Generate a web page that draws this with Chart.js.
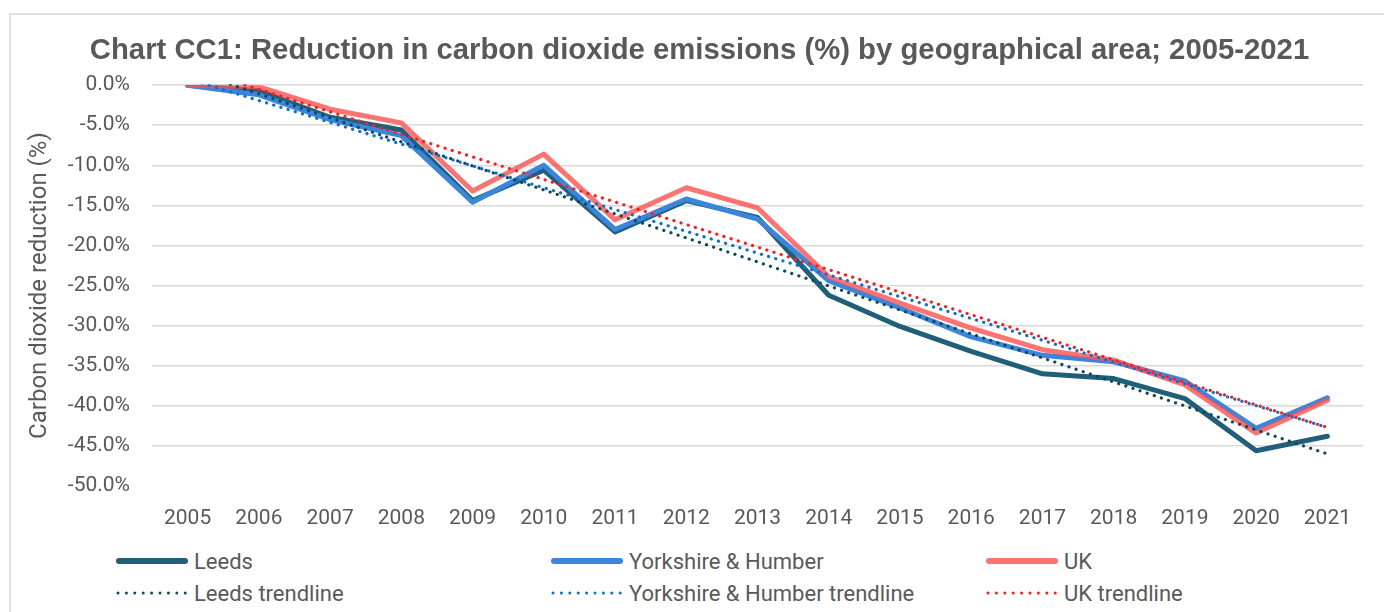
<!DOCTYPE html>
<html>
<head>
<meta charset="utf-8">
<script src="https://cdn.jsdelivr.net/npm/chart.js@4/dist/chart.umd.min.js"></script>
<style>
  body { margin: 0; background: #fff; }
  #wrap { position: relative; width: 1384px; height: 612px; overflow: hidden; }
  #frame { position: absolute; left: 9px; top: 13px; width: 1400px; height: 620px;
           border-left: 2px solid #e0e0e0; border-top: 2px solid #e0e0e0; }
  #cc1 { position: absolute; left: 0; top: 0; }
  #legend { position: absolute; left: 115px; top: 547px; width: 1260px;
            display: grid; grid-template-columns: 435px 435px 390px; row-gap: 4px;
            font-family: Roboto, "Liberation Sans", sans-serif; font-size: 22px; color: #595959; }
  #legend .item { display: flex; align-items: center; height: 28px; white-space: nowrap; }
  #legend svg { margin-right: 5px; }
</style>
</head>
<body>
<div id="wrap">
  <div id="frame"></div>
  <canvas id="cc1" width="1384" height="536"></canvas>
  <div id="legend"></div>
</div>
<script>
// values (% change since 2005)
var years = ['2005','2006','2007','2008','2009','2010','2011','2012','2013','2014','2015','2016','2017','2018','2019','2020','2021'];
var leeds = [0, -0.7, -4.0, -5.6, -14.4, -10.6, -18.3, -14.4, -16.5, -26.2, -30.1, -33.2, -36.0, -36.6, -39.1, -45.6, -43.8];
var yorksHumber = [0, -1.2, -4.3, -6.3, -14.6, -10.0, -18.0, -14.2, -16.7, -24.4, -27.8, -31.4, -33.7, -34.5, -36.9, -42.8, -39.0];
var uk = [0, -0.2, -3.0, -4.7, -13.2, -8.6, -16.8, -12.8, -15.3, -23.9, -27.2, -30.3, -33.0, -34.3, -37.4, -43.4, -39.3];
var leedsTrend = [1.9, null, null, null, null, null, null, null, null, null, null, null, null, null, null, null, -46.0];
var yorksHumberTrend = [0.8, null, null, null, null, null, null, null, null, null, null, null, null, null, null, null, -42.7];
var ukTrend = [2.3, null, null, null, null, null, null, null, null, null, null, null, null, null, null, null, -42.7];

var yMin = -50, yMax = 0, yStep = 5;

function solid(label, data, color, order) {
  return { label: label, data: data, borderColor: color, backgroundColor: color,
           borderWidth: 5, pointRadius: 0, tension: 0, order: order,
           borderJoinStyle: 'round', borderCapStyle: 'round', solid: true };
}
function dotted(label, data, color) {
  return { label: label, data: data, borderColor: color, backgroundColor: color,
           borderWidth: 3.2, pointRadius: 0, spanGaps: true, order: 0, clip: 1,
           borderDash: [0.1, 7.4], borderCapStyle: 'round', solid: false };
}

var datasets = [
  solid('Leeds', leeds, '#1f5f77', 3),
  solid('Yorkshire & Humber', yorksHumber, '#3a86dc', 2),
  solid('UK', uk, 'rgba(255,80,80,0.8)', 1),
  dotted('Leeds trendline', leedsTrend, '#0d4b5e'),
  dotted('Yorkshire & Humber trendline', yorksHumberTrend, '#0a70d8'),
  dotted('UK trendline', ukTrend, '#ff1c1c')
];

var tickFont = { family: 'Roboto, "Liberation Sans", sans-serif', size: 21 };

// nudge the title a little right, as in the original
var titleShift = {
  id: 'titleShift',
  afterLayout: function (c) {
    if (c.titleBlock) { c.titleBlock.left += 13; c.titleBlock.right += 13; }
  }
};

var chart = new Chart(document.getElementById('cc1'), {
  type: 'line',
  data: { labels: years, datasets: datasets },
  plugins: [titleShift],
  options: {
    responsive: false,
    animation: false,
    layout: { padding: { left: 10, right: 21, top: 0, bottom: 0 } },
    plugins: {
      legend: { display: false },
      tooltip: { enabled: false },
      title: {
        display: true,
        text: 'Chart CC1: Reduction in carbon dioxide emissions (%) by geographical area; 2005-2021',
        color: '#595959',
        font: { family: '"Liberation Sans", Arial, sans-serif', size: 29.3, weight: 'bold', lineHeight: 1.2 },
        padding: { top: 33, bottom: 17 }
      }
    },
    scales: {
      x: {
        offset: true,
        grid: { display: false, drawTicks: false, offset: true },
        border: { display: false },
        ticks: { color: '#595959', font: tickFont, padding: 20, maxRotation: 0, autoSkip: false },
        afterFit: function (s) { s.height = 50; }
      },
      y: {
        min: yMin, max: yMax,
        border: { display: false },
        grid: {
          drawTicks: false, lineWidth: 1.5,
          color: function (c) { return c.tick && c.tick.value === yMin ? 'rgba(0,0,0,0)' : '#d9d9d9'; }
        },
        ticks: {
          stepSize: yStep, color: '#595959', font: tickFont, padding: 22,
          callback: function (v) { return v.toFixed(1) + '%'; }
        },
        title: {
          display: true, text: 'Carbon dioxide reduction (%)', color: '#595959',
          font: { family: 'Roboto, "Liberation Sans", sans-serif', size: 24, lineHeight: 1.2 },
          padding: { top: 16, bottom: 0 }
        },
        afterFit: function (s) { s.width = 142; }
      }
    }
  }
});

// legend in three columns, built from the datasets
var legend = document.getElementById('legend');
var cols = [[0, 1, 2], [3, 4, 5]];
cols.forEach(function (row) {
  row.forEach(function (i) {
    var ds = datasets[i];
    var item = document.createElement('div');
    item.className = 'item';
    var line = ds.solid
      ? '<line x1="4" y1="6" x2="70" y2="6" stroke="' + ds.borderColor + '" stroke-width="6" stroke-linecap="round"/>'
      : '<line x1="3" y1="6" x2="72" y2="6" stroke="' + ds.borderColor + '" stroke-width="3" stroke-linecap="round" stroke-dasharray="0 8.4"/>';
    item.innerHTML = '<svg width="74" height="12">' + line + '</svg><span>' + ds.label + '</span>';
    legend.appendChild(item);
  });
});
</script>
</body>
</html>
